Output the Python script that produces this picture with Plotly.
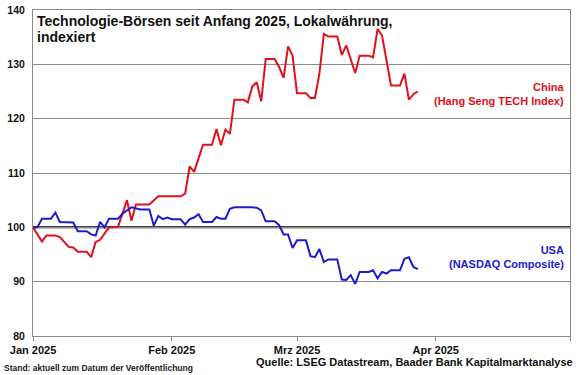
import plotly.graph_objects as go

china_dates = ["2025-01-01", "2025-01-03", "2025-01-04", "2025-01-06", "2025-01-07", "2025-01-09",
               "2025-01-10", "2025-01-11", "2025-01-13", "2025-01-14", "2025-01-15", "2025-01-16",
               "2025-01-18", "2025-01-20", "2025-01-22", "2025-01-23", "2025-01-24", "2025-01-27",
               "2025-01-29", "2025-02-03", "2025-02-04", "2025-02-05", "2025-02-06", "2025-02-07",
               "2025-02-08", "2025-02-10", "2025-02-11", "2025-02-12", "2025-02-13", "2025-02-14",
               "2025-02-15", "2025-02-17", "2025-02-18", "2025-02-19", "2025-02-20", "2025-02-21",
               "2025-02-22", "2025-02-24", "2025-02-25", "2025-02-26", "2025-02-27", "2025-02-28",
               "2025-03-01", "2025-03-03", "2025-03-04", "2025-03-05", "2025-03-06", "2025-03-07",
               "2025-03-08", "2025-03-10", "2025-03-11", "2025-03-12", "2025-03-14", "2025-03-15",
               "2025-03-17", "2025-03-18", "2025-03-19", "2025-03-20", "2025-03-22", "2025-03-24",
               "2025-03-25", "2025-03-26", "2025-03-27", "2025-03-28"]
china_values = [100, 97.4, 98.5, 98.5, 98.2, 96.4,
                96.3, 95.5, 95.5, 94.5, 97.3, 97.7,
                100, 100.1, 105, 101.2, 104.2, 104.2,
                105.7, 105.7, 106.2, 111.2, 110.2, 112.9,
                115.2, 115.2, 118.1, 115.1, 118, 117.2,
                123.5, 123.5, 123, 125.9, 126.7, 123.2,
                131, 131, 129.5, 127.5, 133.3, 131.6,
                124.7, 124.7, 123.8, 123.8, 128.3, 135.6,
                135.1, 135.1, 131.7, 133.5, 128.4, 131.6,
                131.6, 131.3, 136.5, 135.3, 126.1, 126.1,
                128.3, 123.5, 124.5, 125]

usa_dates = ["2025-01-01", "2025-01-02", "2025-01-03", "2025-01-05", "2025-01-06", "2025-01-07",
             "2025-01-10", "2025-01-11", "2025-01-13", "2025-01-14", "2025-01-15", "2025-01-16",
             "2025-01-17", "2025-01-18", "2025-01-20", "2025-01-21", "2025-01-23", "2025-01-24",
             "2025-01-25", "2025-01-27", "2025-01-28", "2025-01-29", "2025-01-30", "2025-01-31",
             "2025-02-01", "2025-02-03", "2025-02-04", "2025-02-05", "2025-02-06", "2025-02-07",
             "2025-02-08", "2025-02-10", "2025-02-11", "2025-02-12", "2025-02-13", "2025-02-14",
             "2025-02-15", "2025-02-19", "2025-02-20", "2025-02-21", "2025-02-22", "2025-02-24",
             "2025-02-25", "2025-02-26", "2025-02-27", "2025-02-28", "2025-03-01", "2025-03-03",
             "2025-03-04", "2025-03-05", "2025-03-06", "2025-03-07", "2025-03-08", "2025-03-10",
             "2025-03-11", "2025-03-12", "2025-03-13", "2025-03-14", "2025-03-15", "2025-03-17",
             "2025-03-18", "2025-03-19", "2025-03-20", "2025-03-21", "2025-03-22", "2025-03-24",
             "2025-03-25", "2025-03-26", "2025-03-27", "2025-03-28"]
usa_values = [100, 100, 101.6, 101.6, 102.7, 101,
              100.9, 99.3, 99.3, 98.7, 98.5, 101,
              100, 101.6, 101.6, 102.5, 103.7, 103.5,
              103.3, 103.3, 100.3, 102.1, 101.5, 101.8,
              101.5, 101.5, 100.5, 101.5, 101.8, 102.4,
              101, 101, 101.9, 101.6, 101.6, 103.4,
              103.7, 103.7, 103.6, 103.1, 101.1, 101.1,
              100.4, 98.7, 98.7, 96.2, 97.6, 97.6,
              94.7, 94.5, 96, 93.6, 94.1, 94.1,
              90.4, 90.3, 91.2, 89.6, 91.8, 91.8,
              92.1, 90.6, 91.8, 91.5, 92.1, 92.1,
              94.2, 94.5, 92.7, 92.3]

month_ticks = ["2025-01-01", "2025-02-01", "2025-03-01", "2025-04-01", "2025-05-01"]
month_labels = ["Jan 2025", "Feb 2025", "Mrz 2025", "Apr 2025", ""]
y_ticks = [80, 90, 100, 110, 120, 130, 140]

RED = "#e0101c"
BLUE = "#1c1ccc"
FONT = "Liberation Sans, Arial, sans-serif"

fig = go.Figure()
fig.add_trace(go.Scatter(x=china_dates, y=china_values, mode="lines",
                         line=dict(color=RED, width=2), showlegend=False))
fig.add_trace(go.Scatter(x=usa_dates, y=usa_values, mode="lines",
                         line=dict(color=BLUE, width=2), showlegend=False))

fig.add_shape(type="line", xref="paper", x0=0, x1=1, yref="y", y0=100, y1=100,
              line=dict(color="black", width=2), layer="between")

fig.update_layout(
    width=580, height=375,
    margin=dict(l=33, r=10, t=10, b=39, autoexpand=False),
    paper_bgcolor="white", plot_bgcolor="white",
    font=dict(family=FONT, color="#111"),
    xaxis=dict(range=["2025-01-01", "2025-05-01"], tickvals=month_ticks, ticktext=month_labels,
               automargin=False,
               showgrid=False, showline=True, linecolor="#8a8a8a", linewidth=1, mirror=True,
               ticks="outside", ticklen=4, tickcolor="#8a8a8a",
               tickfont=dict(family=FONT, size=11, color="#111", weight="bold")),
    yaxis=dict(range=[80, 140], tickvals=y_ticks, showgrid=True, gridcolor="#8c8c8c", gridwidth=1,
               automargin=False,
               showline=True, linecolor="#8a8a8a", linewidth=1, mirror=True,
               ticks="", ticklabelstandoff=5,
               tickfont=dict(family=FONT, size=10.5, color="#111", weight="bold")),
)

fig.add_annotation(xref="paper", yref="paper", x=0, y=1, xshift=2, yshift=-10.5,
                   xanchor="left", yanchor="middle", align="left", showarrow=False,
                   text="<b>Technologie-Börsen seit Anfang 2025, Lokalwährung,</b>",
                   font=dict(family=FONT, size=14, color="#111"))
fig.add_annotation(xref="paper", yref="paper", x=0, y=1, xshift=2, yshift=-26.5,
                   xanchor="left", yanchor="middle", align="left", showarrow=False,
                   text="<b>indexiert</b>",
                   font=dict(family=FONT, size=14, color="#111"))
fig.add_annotation(xref="paper", yref="y", x=1, y=124.5, xshift=-4, xanchor="right", yanchor="middle",
                   align="right", showarrow=False,
                   text="<b>China<br>(Hang Seng TECH Index)</b>",
                   font=dict(family=FONT, size=11, color=RED))
fig.add_annotation(xref="paper", yref="y", x=1, y=94.5, xshift=-4, xanchor="right", yanchor="middle",
                   align="right", showarrow=False,
                   text="<b>USA<br>(NASDAQ Composite)</b>",
                   font=dict(family=FONT, size=11, color=BLUE))
fig.add_annotation(xref="paper", yref="paper", x=1, y=0, xshift=5, yshift=-26,
                   xanchor="right", yanchor="middle", showarrow=False,
                   text="<b>Quelle: LSEG Datastream, Baader Bank Kapitalmarktanalyse</b>",
                   font=dict(family=FONT, size=11, color="#111"))
fig.add_annotation(xref="paper", yref="paper", x=0, y=0, xshift=-31, yshift=-32,
                   xanchor="left", yanchor="middle", showarrow=False,
                   text="<b>Stand: aktuell zum Datum der Veröffentlichung</b>",
                   font=dict(family=FONT, size=8.5, color="#222"))

fig.write_html("out.html", config={"displayModeBar": False},
               post_script="document.body.style.margin='0';")
